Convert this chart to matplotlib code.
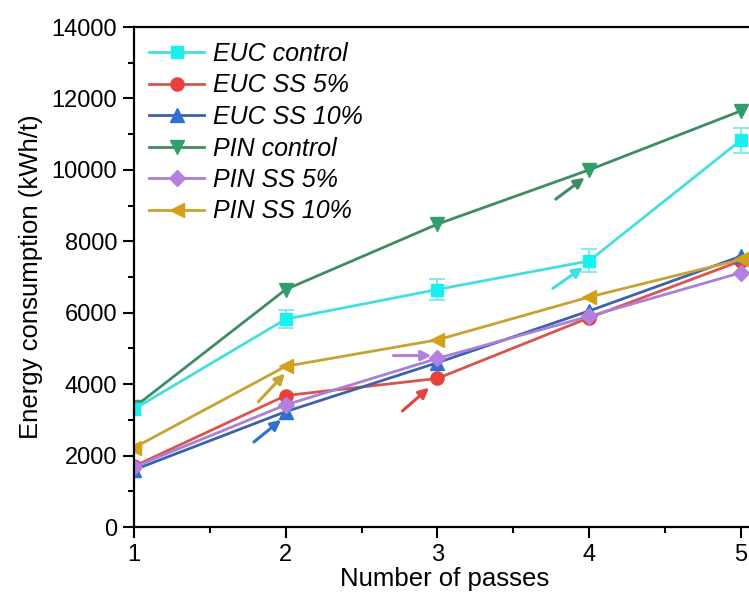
import numpy as np
import matplotlib.pyplot as plt
from matplotlib.ticker import MultipleLocator

plt.rcParams['font.family'] = ['Liberation Sans', 'DejaVu Sans']

passes = [1, 2, 3, 4, 5]

euc_control = [3300, 5820, 6650, 7450, 10830]
euc_control_err = [150, 250, 300, 320, 350]
euc_ss5 = [1700, 3680, 4160, 5860, 7450]
euc_ss10 = [1600, 3230, 4600, 6050, 7580]
pin_control = [3350, 6650, 8480, 10000, 11650]
pin_ss5 = [1680, 3420, 4720, 5900, 7120]
pin_ss10 = [2220, 4500, 5240, 6440, 7490]

# arrows pointing at selected points: (tail x, tail y, head x, head y)
arrows_green = (3.78, 9180, 3.97, 9780)
arrows_cyan = (3.76, 6680, 3.96, 7270)
arrows_gold = (1.82, 3510, 1.995, 4300)
arrows_blue = (1.79, 2380, 1.97, 3000)
arrows_purple = (2.71, 4800, 2.96, 4800)
arrows_red = (2.77, 3250, 2.945, 3900)

fig = plt.figure(figsize=(7.49, 5.95), dpi=100)
ax = fig.add_axes([134 / 749, 68 / 595, (756 - 134) / 749, 500 / 595])

# series: (values, marker, line colour, marker colour, label)
series = [
    (euc_ss5, 'o', '#d9544f', '#e8413c', 'EUC SS 5%'),
    (euc_ss10, '^', '#3a62ad', '#2f6fd0', 'EUC SS 10%'),
    (pin_control, 'v', '#3f8c62', '#2fa06a', 'PIN control'),
    (pin_ss5, 'D', '#a97fd8', '#b57fe0', 'PIN SS 5%'),
    (pin_ss10, '<', '#c9a232', '#d4a017', 'PIN SS 10%'),
]

handles = []
labels = []
h = ax.errorbar(passes, euc_control, yerr=euc_control_err, color='#45dede',
                ecolor='#7ee8e8', elinewidth=1.3, capsize=6, capthick=1.3,
                marker='s', markersize=9, markerfacecolor='#19f0f0',
                markeredgecolor='#19f0f0', linewidth=2)
handles.append(h.lines[0])
labels.append('EUC control')
for vals, mk, lc, mc, lab in series:
    ms = 8 if mk == 'D' else 10
    if mk == 'o':
        ms = 9.5
    ln, = ax.plot(passes, vals, color=lc, linewidth=2, marker=mk,
                  markersize=ms, markerfacecolor=mc, markeredgecolor=mc)
    handles.append(ln)
    labels.append(lab)

for arr, col in [(arrows_green, '#3f8c62'), (arrows_cyan, '#3fe0e0'),
                 (arrows_gold, '#c9a232'), (arrows_blue, '#2f6fd0'),
                 (arrows_purple, '#b57fe0'), (arrows_red, '#e0453f')]:
    ax.annotate('', xy=(arr[2], arr[3]), xytext=(arr[0], arr[1]),
                arrowprops=dict(arrowstyle='-|>,head_length=0.6,head_width=0.3',
                                color=col, lw=2.2, shrinkA=0, shrinkB=0))

ax.set_xlim(1, 5.1)
ax.set_ylim(0, 14000)
ax.set_xticks(passes)
ax.xaxis.set_minor_locator(MultipleLocator(0.5))
ax.yaxis.set_major_locator(MultipleLocator(2000))
ax.yaxis.set_minor_locator(MultipleLocator(1000))
ax.tick_params(which='major', direction='out', length=8, width=1.5,
               labelsize=17, pad=4)
ax.tick_params(which='minor', direction='out', length=4, width=1.5)
ax.tick_params(top=False, right=False, which='both')
for s in ['left', 'bottom', 'top']:
    ax.spines[s].set_linewidth(1.6)
ax.spines['right'].set_visible(False)

ax.set_xlabel('Number of passes', fontsize=18.5, labelpad=1)
ax.set_ylabel('Energy consumption (kWh/t)', fontsize=18.5, labelpad=6)

ax.legend(handles, labels, loc='upper left', frameon=False,
          prop={'style': 'italic', 'size': 18}, handlelength=2.2,
          handletextpad=0.35, labelspacing=0.3,
          bbox_to_anchor=(0.0, 1.0), borderaxespad=0.2)

fig.savefig('out.png', dpi=100)
